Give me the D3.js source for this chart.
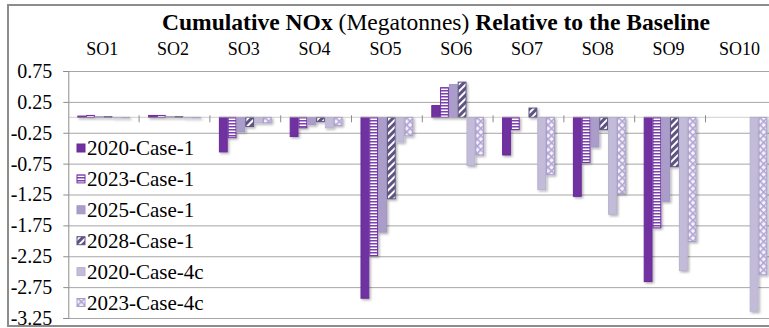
<!DOCTYPE html>
<html><head><meta charset="utf-8">
<script src="https://cdn.jsdelivr.net/npm/d3@7"></script>
</head>
<body style="margin:0;padding:0;background:#fff;overflow:hidden">
<svg id="chart" width="769" height="328" style="display:block" font-family="Liberation Serif"></svg>
<script>
const categories = ["SO1","SO2","SO3","SO4","SO5","SO6","SO7","SO8","SO9","SO10"];
const seriesNames = ["2020-Case-1","2023-Case-1","2025-Case-1","2028-Case-1","2020-Case-4c","2023-Case-4c"];
const s2020case1  = [0.02, 0.03, -0.56, -0.31, -2.93, 0.19, -0.61, -1.28, -2.66, null];
const s2023case1  = [0.03, 0.03, -0.33, -0.17, -2.24, 0.48, -0.20, -0.73, -1.79, null];
const s2025case1  = [0.01, 0.01, -0.23, -0.12, -1.86, 0.53, 0.00, -0.48, -1.36, null];
const s2028case1  = [0.01, 0.01, -0.15, -0.07, -1.32, 0.57, 0.15, -0.20, -0.80, null];
const s2020case4c = [-0.01, -0.01, -0.09, -0.17, -0.40, -0.78, -1.17, -1.57, -2.48, -3.14];
const s2023case4c = [-0.01, -0.01, -0.09, -0.13, -0.30, -0.61, -0.93, -1.23, -2.01, -2.55];
const seriesValues = [s2020case1, s2023case1, s2025case1, s2028case1, s2020case4c, s2023case4c];
const yTicks = [0.75, 0.25, -0.25, -0.75, -1.25, -1.75, -2.25, -2.75, -3.25];
const yTickLabels = ["0.75","0.25","-0.25","-0.75","-1.25","-1.75","-2.25","-2.75","-3.25"];

const FONT = "Liberation Serif";
const svg = d3.select("#chart");
const defs = svg.append("defs");

const f = defs.append("filter").attr("id","shadow").attr("x","-50%").attr("y","-10%").attr("width","200%").attr("height","130%");
f.append("feDropShadow").attr("dx",1.5).attr("dy",1.5).attr("stdDeviation",1).attr("flood-color","#000").attr("flood-opacity",0.3);

const pH = defs.append("pattern").attr("id","hstripe").attr("patternUnits","userSpaceOnUse").attr("width",6).attr("height",3);
pH.append("rect").attr("width",6).attr("height",3).attr("fill","#ffffff");
pH.append("rect").attr("width",6).attr("height",1.5).attr("fill","#7b3fb0");

const pD = defs.append("pattern").attr("id","diag").attr("patternUnits","userSpaceOnUse").attr("width",5).attr("height",5).attr("patternTransform","rotate(45)");
pD.append("rect").attr("width",5).attr("height",5).attr("fill","#ffffff");
pD.append("rect").attr("width",3).attr("height",5).attr("fill","#5e5282");

const pX = defs.append("pattern").attr("id","cross").attr("patternUnits","userSpaceOnUse").attr("width",5).attr("height",5).attr("patternTransform","rotate(45)");
pX.append("rect").attr("width",5).attr("height",5).attr("fill","#f4f1fa");
pX.append("rect").attr("width",1.6).attr("height",5).attr("fill","#b2a5d3");
pX.append("rect").attr("width",5).attr("height",1.6).attr("fill","#b2a5d3");

const fills   = ["#7030a0","url(#hstripe)","#aa9dc9","url(#diag)","#c3bcd8","url(#cross)"];
const strokes = ["#6a2a99","#7030a0","#a396c4","#5e5282","#b9b1d2","#a99bcc"];

svg.append("rect").attr("x",8).attr("y",5).attr("width",790).attr("height",321)
  .attr("fill","none").attr("stroke","#8c8c8c").attr("stroke-width",2);

const plotL = 68.3, plotR = 776.3, plotT = 71, plotB = 318;
const x0 = d3.scaleBand().domain(categories).range([plotL, plotR]).padding(0);
const x1 = d3.scaleBand().domain(seriesNames).range([9, 61.8]).padding(0);
const y = d3.scaleLinear().domain([-3.25, 0.75]).range([plotB, plotT]);

const grid = svg.append("g").attr("transform",`translate(${plotL},0)`)
  .call(d3.axisLeft(y).tickValues(yTicks).tickSize(-(plotR-plotL)).tickFormat(""));
grid.select(".domain").remove();
grid.selectAll("line").attr("stroke","#a6a6a6").attr("stroke-width",1);

const yAxis = svg.append("g").attr("transform",`translate(${plotL},0)`)
  .call(d3.axisLeft(y).tickValues(yTicks).tickSize(5).tickPadding(11)
    .tickFormat((d,i)=>yTickLabels[i]));
yAxis.attr("font-family",FONT).attr("font-size",20);
yAxis.select(".domain").attr("stroke","#8c8c8c");
yAxis.selectAll("line").attr("stroke","#8c8c8c");
yAxis.selectAll("text").attr("font-family",FONT).attr("font-size",20)
  .style("font-family",FONT).style("font-size","20px").attr("fill","#000");

const rows = [];
categories.forEach((c,ci)=>{
  seriesNames.forEach((s,si)=>{
    const v = seriesValues[si][ci];
    if (v !== null) rows.push({c, s, si, v});
  });
});
svg.append("g").attr("filter","url(#shadow)")
  .selectAll("rect").data(rows).join("rect")
  .attr("x", d=>x0(d.c)+x1(d.s)+0.5)
  .attr("width", x1.bandwidth()-1)
  .attr("y", d=>y(Math.max(0,d.v)))
  .attr("height", d=>Math.abs(y(d.v)-y(0)))
  .attr("fill", d=>fills[d.si])
  .attr("stroke", d=>strokes[d.si])
  .attr("stroke-width",1);

const y0 = y(0);
svg.append("line").attr("x1",plotL).attr("x2",plotR).attr("y1",y0).attr("y2",y0)
  .attr("stroke","#b0b0b0").attr("stroke-width",1).attr("opacity",0.6);
svg.append("g").selectAll("line").data(categories.slice(1)).join("line")
  .attr("x1",d=>x0(d)).attr("x2",d=>x0(d)).attr("y1",y0-2).attr("y2",y0+5)
  .attr("stroke","#8c8c8c").attr("stroke-width",1);

svg.append("g").selectAll("text").data(categories).join("text")
  .attr("x",d=>x0(d)+x0.bandwidth()/2-1.5).attr("y",55)
  .attr("text-anchor","middle").attr("font-family",FONT).attr("font-size",18)
  .style("font-family",FONT).style("font-size","18px").attr("fill","#000")
  .text(d=>d);

const title = svg.append("text").attr("x",436).attr("y",30).attr("text-anchor","middle")
  .attr("font-family",FONT).attr("font-size",21)
  .style("font-family",FONT).style("font-size","21px").attr("fill","#000");
title.append("tspan").attr("font-weight","bold").attr("font-family",FONT).text("Cumulative NOx ");
title.append("tspan").attr("font-family",FONT).text("(Megatonnes) ");
title.append("tspan").attr("font-weight","bold").attr("font-family",FONT).text("Relative to the Baseline");
const tw = title.node().getComputedTextLength();
const tfs = (21*548/tw).toFixed(2);
title.attr("font-size",tfs).style("font-size", tfs+"px");

const leg = svg.append("g");
seriesNames.forEach((s,i)=>{
  const cy = 148 + i*30.9;
  leg.append("rect").attr("x",77).attr("y",cy-4).attr("width",8).attr("height",8)
    .attr("fill",fills[i]).attr("stroke",strokes[i]).attr("stroke-width",1);
  leg.append("text").attr("x",87).attr("y",cy).attr("dy","0.35em")
    .attr("font-family",FONT).attr("font-size",21)
    .style("font-family",FONT).style("font-size","21px").attr("fill","#000").text(s);
});
</script>
</body></html>
